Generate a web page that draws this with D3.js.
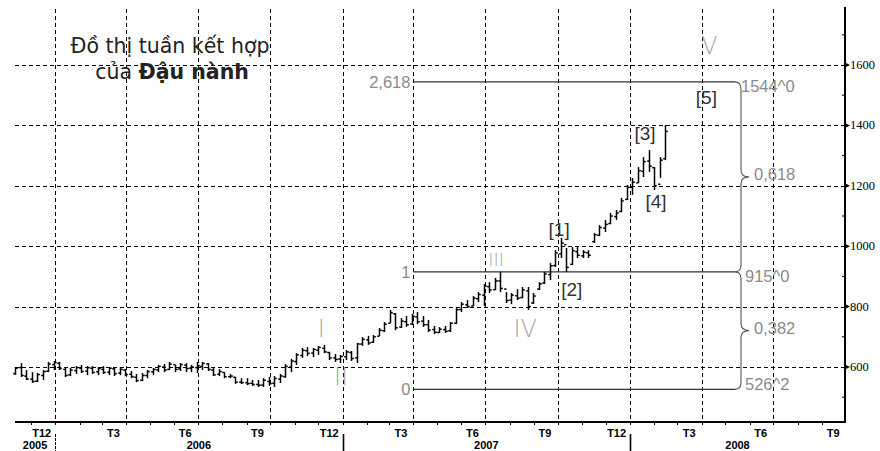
<!DOCTYPE html>
<html>
<head>
<meta charset="utf-8">
<script src="https://cdn.jsdelivr.net/npm/d3@7/dist/d3.min.js"></script>
<style>
  html, body { margin: 0; padding: 0; background: #fff; }
  svg { display: block; }
</style>
</head>
<body>
<svg id="chart" width="880" height="451"></svg>
<script>
// Weekly soybean bars (high / low / open / close), first bar week of 2005-11-11
const firstWeek = "2005-11-11";
const highs = [600,613,590,583,580,590,617,620,617,597,597,603,607,603,603,600,603,600,597,600,
  593,587,577,580,590,597,607,610,617,607,613,613,607,617,617,613,597,593,583,577,
  567,563,563,557,557,563,567,570,577,610,627,646,663,666,663,670,673,650,643,640,
  656,653,680,699,703,706,729,749,789,779,762,769,776,782,769,756,736,732,736,749,
  795,815,822,835,848,875,881,895,915,848,845,858,865,865,845,881,915,944,987,1027,
  994,997,997,987,987,1044,1070,1087,1110,1120,1160,1203,1226,1262,1295,1318,1262,1295,1401];
const lows = [574,567,557,547,550,557,583,590,590,567,570,577,580,573,577,573,577,573,570,573,
  570,563,550,553,563,573,583,583,590,583,587,583,583,580,590,587,570,570,563,563,
  544,544,540,537,534,534,537,534,547,564,583,607,630,636,633,640,646,623,617,613,
  623,620,613,670,673,680,703,716,746,722,729,733,739,742,733,716,709,713,713,716,
  742,782,795,802,815,802,845,855,848,812,808,822,828,789,809,855,875,888,931,961,
  915,938,961,961,961,1011,1034,1047,1073,1087,1113,1153,1170,1209,1229,1246,1186,1226,1285];
const opens = [578,598,570,560,553,572,586,608,612,592,574,588,596,586,596,584,592,583,594,580,
  590,576,566,556,572,584,590,600,592,608,594,606,596,598,602,610,590,576,582,568,
  566,550,548,546,542,540,552,546,560,568,600,618,638,654,646,656,662,648,630,626,
  634,648,630,676,690,682,702,720,745,776,732,750,742,766,752,740,724,714,724,720,
  745,790,806,802,826,838,866,856,885,858,822,836,830,852,812,858,878,906,936,975,
  1005,940,982,968,978,1015,1036,1060,1075,1098,1115,1155,1195,1210,1248,1282,1260,1205,1290];
const closes = [596,572,560,552,575,585,610,615,595,572,590,598,585,598,582,595,582,596,578,592,
  575,568,555,572,585,592,602,590,610,592,608,595,600,604,612,592,574,585,568,570,
  550,548,545,542,540,556,545,562,570,602,620,640,655,645,658,665,650,630,625,635,
  650,628,676,692,680,700,722,742,780,730,752,740,768,750,740,722,715,725,718,745,
  790,808,800,828,840,868,855,885,860,820,838,828,855,800,835,875,908,935,978,1010,
  930,985,970,980,970,1038,1062,1072,1100,1110,1150,1195,1212,1250,1280,1265,1200,1285,1380];

// Price axis ticks and time axis labels
const priceTicks = [600, 800, 1000, 1200, 1400, 1600];
const minorPriceTicks = [500, 700, 900, 1100, 1300, 1500, 1700];
const quarterStarts = ["2006-01-01","2006-04-01","2006-07-01","2006-10-01","2007-01-01","2007-04-01",
  "2007-07-01","2007-10-01","2008-01-01","2008-04-01","2008-07-01"];
const monthLabels = ["T12","T3","T6","T9","T12","T3","T6","T9","T12","T3","T6","T9"];
const monthLabelDates = ["2005-12-15","2006-03-16","2006-06-15","2006-09-15","2006-12-15","2007-03-16",
  "2007-06-15","2007-09-15","2007-12-15","2008-03-16","2008-06-15","2008-09-15"];
const yearLabels = ["2005","2006","2007","2008"];
const yearBounds = [["2005-11-11","2006-01-01"],["2006-01-01","2007-01-01"],["2007-01-01","2008-01-01"],["2008-01-01","2008-09-30"]];
const yearSeparators = ["2006-01-01","2007-01-01","2008-01-01"];

// Fibonacci projection levels
const fibRatios = ["0", "1", "2,618"];
const fibPrices = [526, 915, 1544];
const fibPriceLabels = ["526^2", "915^0", "1544^0"];
const fibSpanLabels = ["0,382", "0,618"];

// Elliott wave marks: label, date, price at the text baseline
const waveLabels = ["I","II","III","IV","V"];
const waveDates = ["2006-12-05","2006-12-30","2007-07-15","2007-08-21","2008-04-11"];
const wavePrices = [700, 540, 934, 700, 1635];
const subWaveLabels = ["[1]","[2]","[3]","[4]","[5]"];
const subWaveDates = ["2007-10-03","2007-10-19","2008-01-20","2008-02-03","2008-04-07"];
const subWavePrices = [1034, 835, 1352, 1126, 1471];

const parse = d3.timeParse("%Y-%m-%d");
const svg = d3.select("#chart");

const x = d3.scaleTime()
  .domain([parse("2005-11-11"), parse("2008-09-30")])
  .range([15, 845]);
const y = d3.scaleLinear()
  .domain([600, 1600])
  .range([367, 65]);

const plotTop = 9, plotBottom = 422, plotLeft = 15, plotRight = 845;

// Dashed grid
const grid = svg.append("g").attr("stroke", "#000").attr("stroke-width", 1)
  .attr("stroke-dasharray", "4,3").attr("fill", "none");
grid.selectAll("line.h").data(priceTicks).join("line")
  .attr("x1", plotLeft).attr("x2", plotRight)
  .attr("y1", d => Math.round(y(d)) + 0.5).attr("y2", d => Math.round(y(d)) + 0.5);
grid.selectAll("line.v").data(quarterStarts).join("line")
  .attr("x1", d => Math.round(x(parse(d))) + 0.5).attr("x2", d => Math.round(x(parse(d))) + 0.5)
  .attr("y1", plotTop).attr("y2", plotBottom);

// Title
const title = svg.append("g").attr("font-family", "'DejaVu Sans', sans-serif")
  .attr("font-size", 20.5).attr("fill", "#222").attr("text-anchor", "middle");
title.append("text").attr("x", 170).attr("y", 53).text("Đồ thị tuần kết hợp");
const t2 = title.append("text").attr("x", 172).attr("y", 79);
t2.append("tspan").text("của ");
t2.append("tspan").attr("font-weight", "bold").text("Đậu nành");

// Fibonacci lines and braces
const fibX0 = x(parse("2007-04-01")), fibX1 = 735;
const fib = svg.append("g");
fib.selectAll("line").data(fibPrices).join("line")
  .attr("x1", fibX0).attr("x2", fibX1)
  .attr("y1", d => y(d)).attr("y2", d => y(d))
  .attr("stroke", "#333").attr("stroke-width", 1.2);

function bracePath(yTop, yBot, xs, tip) {
  const ym = (yTop + yBot) / 2;
  const c = 7;
  return `M${xs - 6},${yTop} Q${xs},${yTop} ${xs},${yTop + c} L${xs},${ym - c}` +
    ` Q${xs},${ym} ${tip},${ym} Q${xs},${ym} ${xs},${ym + c}` +
    ` L${xs},${yBot - c} Q${xs},${yBot} ${xs - 6},${yBot}`;
}
const braceX = 741, braceTip = 749;
fib.selectAll("path").data([[2, 1], [1, 0]]).join("path")
  .attr("d", d => bracePath(y(fibPrices[d[0]]), y(fibPrices[d[1]]), braceX, braceTip))
  .attr("fill", "none").attr("stroke", "#555").attr("stroke-width", 1.1);

const fibText = svg.append("g").attr("font-family", "'Liberation Sans', Arial, sans-serif")
  .attr("font-size", 16.5).attr("fill", "#8a8a8a");
fibText.selectAll("text.r").data(fibRatios).join("text")
  .attr("x", fibX0 - 3).attr("y", (d, i) => y(fibPrices[i]) + 6)
  .attr("text-anchor", "end").text(d => d);
const priceLabelShift = [1, 10, 10];
fibText.selectAll("text.p").data(fibPriceLabels).join("text")
  .attr("x", (d, i) => i === 2 ? 741 : 745).attr("y", (d, i) => y(fibPrices[i]) + priceLabelShift[i])
  .text(d => d);
fibText.selectAll("text.s").data(fibSpanLabels).join("text")
  .attr("x", 754)
  .attr("y", (d, i) => (y(fibPrices[i]) + y(fibPrices[i + 1])) / 2 + 3)
  .text(d => d);

// Weekly OHLC bars
const weeks = highs.map((h, i) => d3.timeDay.offset(parse(firstWeek), 7 * i));
const bars = svg.append("g").attr("stroke", "#000").attr("stroke-width", 1.5);
const bar = bars.selectAll("g").data(highs).join("g")
  .attr("transform", (d, i) => `translate(${Math.round(x(weeks[i])) + 0.5},0)`);
bar.append("line").attr("y1", (d, i) => y(highs[i])).attr("y2", (d, i) => y(lows[i]));
bar.append("line").attr("x1", -2.3).attr("x2", 0)
  .attr("y1", (d, i) => y(opens[i])).attr("y2", (d, i) => y(opens[i]));
bar.append("line").attr("x1", 0).attr("x2", 2.3)
  .attr("y1", (d, i) => y(closes[i])).attr("y2", (d, i) => y(closes[i]));

// Wave labels
const wave = svg.append("g").attr("font-family", "'DejaVu Sans', sans-serif")
  .attr("font-weight", 200).attr("fill", "#a8a8a8").attr("text-anchor", "middle");
wave.selectAll("text").data(waveLabels).join("text")
  .attr("x", (d, i) => x(parse(waveDates[i])))
  .attr("y", (d, i) => y(wavePrices[i]))
  .attr("font-size", (d, i) => i === 2 ? 18 : 24)
  .text(d => d);
const sub = svg.append("g").attr("font-family", "'Liberation Sans', Arial, sans-serif")
  .attr("font-size", 19).attr("fill", "#333").attr("text-anchor", "middle");
sub.selectAll("text").data(subWaveLabels).join("text")
  .attr("x", (d, i) => x(parse(subWaveDates[i])))
  .attr("y", (d, i) => y(subWavePrices[i]))
  .text(d => d);

// Right price axis
const ax = svg.append("g");
ax.append("line").attr("x1", plotRight).attr("x2", plotRight).attr("y1", plotTop - 2).attr("y2", plotBottom + 1)
  .attr("stroke", "#000").attr("stroke-width", 2);
ax.selectAll("path.tri").data(priceTicks).join("path")
  .attr("d", d => `M${plotRight},${y(d) - 2.5} L${plotRight + 5},${y(d)} L${plotRight},${y(d) + 2.5} Z`)
  .attr("fill", "#000");
ax.selectAll("line.minor").data(minorPriceTicks).join("line")
  .attr("x1", plotRight - 3).attr("x2", plotRight)
  .attr("y1", d => y(d)).attr("y2", d => y(d))
  .attr("stroke", "#000").attr("stroke-width", 1);
ax.selectAll("text").data(priceTicks).join("text")
  .attr("x", plotRight + 5).attr("y", d => y(d) + 4)
  .attr("font-family", "'Liberation Serif', serif").attr("font-size", 12.5)
  .text(d => d);

// Bottom time axis
const bx = svg.append("g");
bx.append("line").attr("x1", plotLeft).attr("x2", plotRight + 1)
  .attr("y1", plotBottom).attr("y2", plotBottom).attr("stroke", "#000").attr("stroke-width", 2);
bx.selectAll("line.m").data(x.ticks(d3.timeMonth.every(1))).join("line")
  .attr("x1", d => Math.round(x(d)) + 0.5).attr("x2", d => Math.round(x(d)) + 0.5)
  .attr("y1", plotBottom).attr("y2", plotBottom + 3)
  .attr("stroke", "#000").attr("stroke-width", 1);
const lab = bx.append("g").attr("font-family", "'Liberation Sans Narrow', 'Liberation Sans', sans-serif")
  .attr("font-size", 11).attr("font-weight", "bold").attr("text-anchor", "middle");
lab.selectAll("text.mo").data(monthLabels).join("text")
  .attr("x", (d, i) => x(parse(monthLabelDates[i])))
  .attr("y", 437).text(d => d);
lab.selectAll("text.yr").data(yearLabels).join("text")
  .attr("x", (d, i) => (x(parse(yearBounds[i][0])) + x(parse(yearBounds[i][1]))) / 2)
  .attr("y", 449).text(d => d);
bx.selectAll("line.ys").data(yearSeparators).join("line")
  .attr("x1", d => Math.round(x(parse(d))) + 0.5).attr("x2", d => Math.round(x(parse(d))) + 0.5)
  .attr("y1", 434).attr("y2", 451)
  .attr("stroke", "#000").attr("stroke-width", (d, i) => i === 0 ? 1 : 1.6)
  .attr("stroke-dasharray", (d, i) => i === 0 ? "3,1" : null);
</script>
</body>
</html>
